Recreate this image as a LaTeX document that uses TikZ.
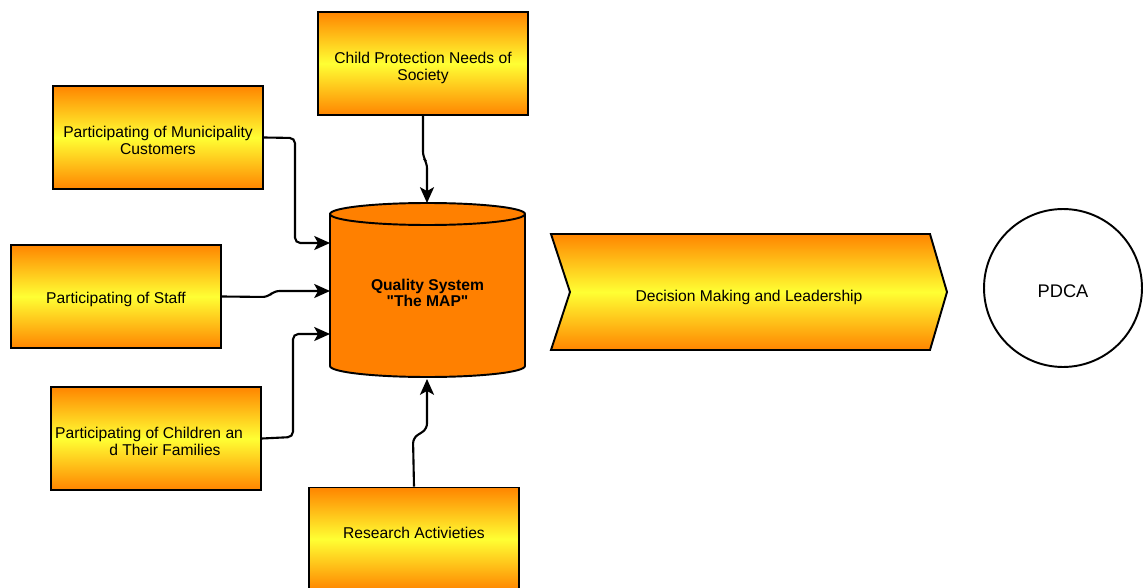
\documentclass[tikz,border=0pt]{standalone}
\usepackage{fontspec}
\setmainfont{Liberation Sans}
\usetikzlibrary{arrows.meta}
\definecolor{orA}{HTML}{FF8500}
\definecolor{yeA}{HTML}{FFFF33}
\definecolor{cylA}{HTML}{FF8000}
\newcommand{\lowtext}[2][-3.1pt]{\raisebox{#1}[\height][\depth]{\begin{tabular}{@{}c@{}}#2\end{tabular}}}
\tikzset{
  gradbox/.style={draw=black, line width=1.1pt, top color=orA, bottom color=orA, middle color=yeA,
    minimum width=4.2cm, minimum height=2.06cm, inner sep=0pt, align=center,
    font=\fontsize{8.9}{9.4}\selectfont},
  conn/.style={draw=black, line width=1.2pt, rounded corners=3pt, -{Stealth[length=9pt,width=8pt,inset=2.2pt]}},
  lbl/.style={inner sep=0pt, align=center, font=\fontsize{8.9}{9.4}\selectfont}
}
\begin{document}
\begin{tikzpicture}[x=0.02cm, y=-0.02cm]
\useasboundingbox (0,0) rectangle (1143,588);
% boxes
\node[gradbox] (cps) at (423,63.5) {\lowtext{Child Protection Needs of\\Society}};
\node[gradbox] (mun) at (158,137.5) {\lowtext{Participating of Municipality\\Customers}};
\node[gradbox] (staff) at (116,296.5) {\lowtext[-2.3pt]{Participating of Staff}};
\node[gradbox] (chi) at (156,438.5) {\lowtext{Participating of Children an\hspace{7.9pt}\mbox{}\\\hspace{10.2pt}d Their Families}};
\node[gradbox] (res) at (414,539) {\lowtext[2.3pt]{Research Activieties}};
% cylinder
\draw[line width=1.1pt, fill=cylA] (330,214) -- (330,366) arc[start angle=180, end angle=360, x radius=1.95cm, y radius=0.22cm]
  -- (525,214) arc[start angle=0, end angle=180, x radius=1.95cm, y radius=0.22cm] -- cycle;
\draw[line width=1.1pt] (330,214) arc[start angle=180, end angle=360, x radius=1.95cm, y radius=0.22cm];
\node[lbl, font=\fontsize{8.9}{9.2}\selectfont\bfseries, minimum width=3.9cm, minimum height=3.04cm] (cyl) at (427.5,290) {\lowtext[-2.8pt]{Quality System\\\textquotedbl The MAP\textquotedbl}};
\coordinate (cylTop) at (427,203);
\coordinate (cylBot) at (427,379);
\coordinate (cylM) at (330,243);
\coordinate (cylS) at (330,291);
\coordinate (cylC) at (330,334);
% chevron
\draw[line width=1.1pt, top color=orA, bottom color=orA, middle color=yeA]
  (551,234) -- (930,234) -- (947,292) -- (930,350) -- (551,350) -- (570,292) -- cycle;
\node[lbl] (dml) at (749,294) {\lowtext[-2.3pt]{Decision Making and Leadership}};
% PDCA
\node[draw=black, line width=1.1pt, circle, minimum size=3.16cm, inner sep=0pt,
  font=\fontsize{10.4}{12}\selectfont] (pdca) at (1063,288) {\lowtext[-2.8pt]{PDCA}};
% connectors
\draw[conn] (cps.south) -- (423,157) -- (427,163) -- (cylTop);
\draw[conn] (mun.east) -- (295,138) -- (295,243) -- (cylM);
\draw[conn] (staff.east) -- (268,297) -- (274,291) -- (cylS);
\draw[conn] (chi.east) -- (293,437) -- (293,334) -- (cylC);
\draw[conn] (res.north) -- (413,438) -- (427,429) -- (cylBot);
\end{tikzpicture}
\end{document}
